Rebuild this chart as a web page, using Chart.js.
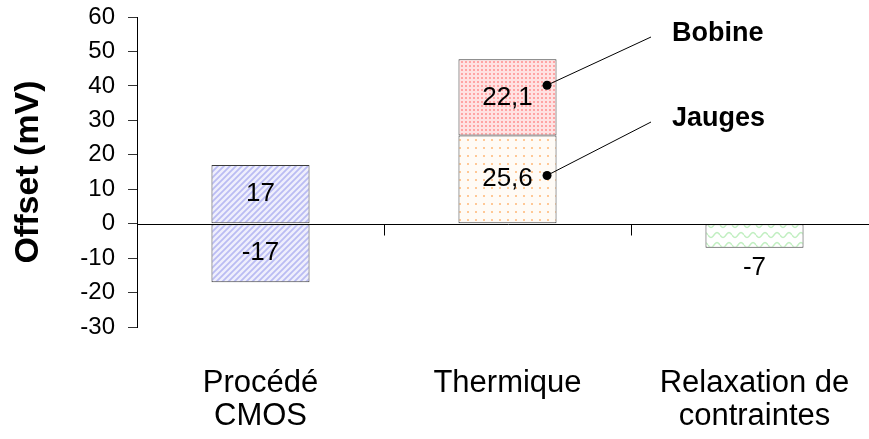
<!DOCTYPE html>
<html>
<head>
<meta charset="utf-8">
<script src="https://cdn.jsdelivr.net/npm/chart.js@4"></script>
<style>
  html, body { margin: 0; padding: 0; background: #fff; overflow: hidden; }
  canvas { display: block; }
</style>
</head>
<body>
<canvas id="offsetChart" width="880" height="439"></canvas>
<script>
// categories and values
const categories = [["Procédé", "CMOS"], "Thermique", ["Relaxation de", "contraintes"]];
const cmosHigh = [17, null, null];
const cmosLow = [-17, null, null];
const jauges = [null, 25.6, null];
const bobine = [null, 22.1, null];
const relaxation = [null, null, -7];
const yMin = -30, yMax = 60, yStep = 10;

// callouts on the "Thermique" bar
const calloutLabels = ["Bobine", "Jauges"];
const calloutValues = [40.2, 14];

const FONT = "'Liberation Sans', Arial, Helvetica, sans-serif";

const canvas = document.getElementById("offsetChart");
const ctx = canvas.getContext("2d");

function makePattern(w, h, paint) {
  const tile = document.createElement("canvas");
  tile.width = w;
  tile.height = h;
  paint(tile.getContext("2d"), w, h);
  return ctx.createPattern(tile, "repeat");
}

// diagonal hatch (blue)
const hatchBlue = makePattern(6, 6, (g, w, h) => {
  g.fillStyle = "#efeffc";
  g.fillRect(0, 0, w, h);
  g.strokeStyle = "#babcf3";
  g.lineWidth = 1.8;
  g.beginPath();
  g.moveTo(-3, 3); g.lineTo(3, -3);
  g.moveTo(0, 6); g.lineTo(6, 0);
  g.moveTo(3, 9); g.lineTo(9, 3);
  g.stroke();
});

// dense dots (red)
const dotsRed = makePattern(4, 4, (g, w, h) => {
  g.fillStyle = "#ffe2e2";
  g.fillRect(0, 0, w, h);
  g.fillStyle = "#ffa4a4";
  g.fillRect(1, 1, 2, 2);
});

// sparse dots (orange)
const dotsOrange = makePattern(8, 8, (g, w, h) => {
  g.fillStyle = "#fffbf6";
  g.fillRect(0, 0, w, h);
  g.fillStyle = "#ffc896";
  g.fillRect(3, 3, 2, 2);
});

// waves (green)
const wavesGreen = makePattern(12, 10, (g, w, h) => {
  g.fillStyle = "#ffffff";
  g.fillRect(0, 0, w, h);
  g.strokeStyle = "#c2efc2";
  g.lineWidth = 1.5;
  g.beginPath();
  for (let px = 0; px <= w; px++) {
    const py = 5 + 2.5 * Math.sin((2 * Math.PI * px) / w);
    if (px === 0) g.moveTo(px, py); else g.lineTo(px, py);
  }
  g.stroke();
});

function fmt(v) {
  return String(v).replace(".", ",");
}

const overlay = {
  id: "overlay",
  afterDatasetsDraw(chart) {
    const { ctx, chartArea, scales: { x, y } } = chart;
    const zeroY = Math.round(y.getPixelForValue(0)) + 0.5;
    ctx.save();

    // zero line + category separators
    ctx.strokeStyle = "#000";
    ctx.lineWidth = 1;
    ctx.beginPath();
    ctx.moveTo(chartArea.left, zeroY);
    ctx.lineTo(chart.width, zeroY);
    for (let i = 1; i < categories.length; i++) {
      const bx = Math.round((x.getPixelForValue(i - 1) + x.getPixelForValue(i)) / 2) + 0.5;
      ctx.moveTo(bx, zeroY);
      ctx.lineTo(bx, zeroY + 11);
    }
    ctx.stroke();

    // value labels
    ctx.fillStyle = "#000";
    ctx.font = "26px " + FONT;
    ctx.textAlign = "center";
    ctx.textBaseline = "middle";
    chart.data.datasets.forEach((ds, di) => {
      chart.getDatasetMeta(di).data.forEach((bar, i) => {
        const v = ds.data[i];
        if (v === null || v === undefined) return;
        const top = Math.min(bar.y, bar.base);
        const bottom = Math.max(bar.y, bar.base);
        const ty = Math.abs(v) > 10 ? (top + bottom) / 2 : bottom + 20;
        ctx.fillText(fmt(v), bar.x, ty);
      });
    });

    // callouts
    const thermBars = [chart.getDatasetMeta(3).data[1], chart.getDatasetMeta(2).data[1]];
    const textY = [34, 119];
    ctx.font = "bold 27px " + FONT;
    ctx.textAlign = "left";
    calloutLabels.forEach((label, k) => {
      const bar = thermBars[k];
      const dx = bar.x + bar.width / 2 - 9.5;
      const dy = y.getPixelForValue(calloutValues[k]);
      ctx.beginPath();
      ctx.moveTo(dx, dy);
      ctx.lineTo(651, textY[k] + 3);
      ctx.stroke();
      ctx.beginPath();
      ctx.arc(dx, dy, 4.5, 0, Math.PI * 2);
      ctx.fill();
      ctx.fillText(label, 672, textY[k]);
    });

    ctx.restore();
  }
};

const barStyle = {
  borderColor: "#3c3c3c",
  borderWidth: 1,
  borderSkipped: false,
  barPercentage: 0.397,
  categoryPercentage: 1
};

new Chart(ctx, {
  type: "bar",
  data: {
    labels: categories,
    datasets: [
      { label: "Procédé CMOS (+)", data: cmosHigh, backgroundColor: hatchBlue, ...barStyle },
      { label: "Procédé CMOS (-)", data: cmosLow, backgroundColor: hatchBlue, ...barStyle },
      { label: "Jauges", data: jauges, backgroundColor: dotsOrange, ...barStyle },
      { label: "Bobine", data: bobine, backgroundColor: dotsRed, ...barStyle },
      { label: "Relaxation", data: relaxation, backgroundColor: wavesGreen, ...barStyle }
    ]
  },
  options: {
    responsive: false,
    animation: false,
    devicePixelRatio: 1,
    layout: { padding: { left: 0, top: 17, right: 2, bottom: 0 } },
    plugins: {
      legend: { display: false },
      tooltip: { enabled: false }
    },
    scales: {
      x: {
        stacked: true,
        grid: { display: false, drawTicks: false },
        border: { display: false },
        ticks: {
          color: "#000",
          font: { family: FONT, size: 31, lineHeight: 1.07 },
          padding: 40,
          maxRotation: 0,
          autoSkip: false
        },
        afterFit(scale) {
          scale.height = 112;
          scale.paddingLeft = 0;
          scale.paddingRight = 0;
        }
      },
      y: {
        stacked: true,
        min: yMin,
        max: yMax,
        ticks: {
          stepSize: yStep,
          autoSkip: false,
          color: "#000",
          font: { family: FONT, size: 24, lineHeight: 1 },
          padding: 13
        },
        grid: { drawOnChartArea: false, tickLength: 9, color: "#333" },
        border: { display: true, color: "#000", width: 1 },
        title: {
          display: true,
          text: "Offset (mV)",
          color: "#000",
          font: { family: FONT, size: 34, weight: "bold" },
          padding: { top: 8, bottom: 0 }
        },
        afterFit(scale) {
          scale.width = 137;
          scale.paddingTop = 0;
          scale.paddingBottom = 0;
        }
      }
    }
  },
  plugins: [overlay]
});
</script>
</body>
</html>
